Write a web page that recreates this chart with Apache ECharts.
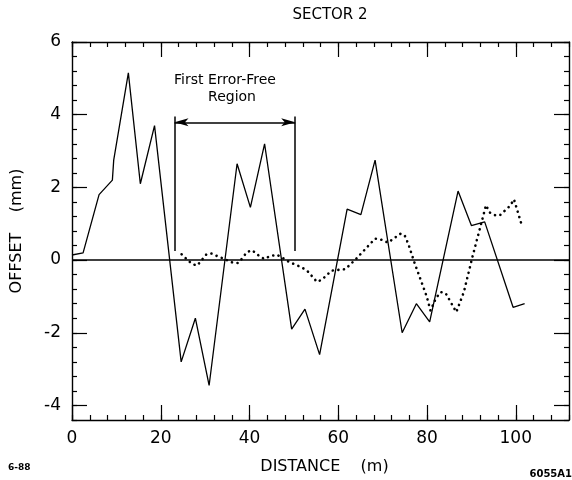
<!DOCTYPE html>
<html>
<head>
<meta charset="utf-8">
<script src="https://cdn.jsdelivr.net/npm/echarts@6/dist/echarts.min.js"></script>
<style>
  html, body { margin: 0; padding: 0; background: #fff; }
  #chart { width: 572px; height: 480px; }
</style>
</head>
<body>
<div id="chart"></div>
<script>
// offset along sector 2 (distance m, offset mm)
var solidTrace = [
  [0, 0.14], [2.5, 0.2], [6.1, 1.8], [9.1, 2.2], [9.4, 2.75], [12.7, 5.15], [15.4, 2.1], [18.6, 3.7],
  [24.6, -2.8], [27.8, -1.6], [30.9, -3.45], [37.2, 2.65], [40.2, 1.45], [43.4, 3.2], [49.5, -1.9],
  [52.5, -1.35], [55.8, -2.6], [62.0, 1.4], [65.1, 1.25], [68.3, 2.75], [74.4, -2.0], [77.6, -1.2],
  [80.6, -1.7], [87.0, 1.9], [90.0, 0.95], [93.0, 1.05], [99.4, -1.3], [102.0, -1.2]
];

var dottedTrace = [
  [24.7, 0.16], [25.8, 0.03], [27.1, -0.11], [28.2, -0.15], [29.1, -0.02], [30.3, 0.16], [31.5, 0.18],
  [32.9, 0.10], [34.4, 0.03], [35.9, -0.06], [37.4, -0.08], [38.4, 0.05], [39.4, 0.22], [40.6, 0.27],
  [41.9, 0.14], [43.3, 0.03], [44.5, 0.10], [46.1, 0.15], [47.6, 0.05], [48.9, -0.05], [50.4, -0.13],
  [51.8, -0.2], [53.2, -0.32], [55.2, -0.6], [56.3, -0.54], [58.5, -0.29], [61.6, -0.25], [64.0, 0.03],
  [68.3, 0.59], [69.7, 0.56], [71.2, 0.48], [72.8, 0.62], [74.1, 0.73], [75.0, 0.67], [75.8, 0.44],
  [77.2, -0.08], [79.9, -0.99], [80.8, -1.39], [82.0, -1.05], [83.1, -0.88], [84.2, -0.91], [86.6, -1.43],
  [88.3, -0.88], [90.2, 0.07], [93.3, 1.51], [94.1, 1.31], [95.4, 1.23], [96.4, 1.23], [98.7, 1.49],
  [99.6, 1.67], [100.1, 1.47], [101.4, 0.94]
];

var xMajorTicks = [0, 20, 40, 60, 80, 100];
var yMajorTicks = [-4, -2, 0, 2, 4, 6];

// "First Error-Free Region" bracket, in data units
var regionStart = 23.1;
var regionEnd = 50.3;
var regionArrowY = 3.79;
var regionTop = 3.95;
var regionBottom = 0.25;

var black = '#000';
var font = 'DejaVu Sans';

var myChart = echarts.init(document.getElementById('chart'));

function xAx(pos, major, labels) {
  return {
    type: 'value', position: pos, min: 0, max: 112, interval: 4,
    axisLine: { show: !major, onZero: false, lineStyle: { color: black, width: 1.4 } },
    axisTick: major
      ? { show: true, inside: true, length: 15, customValues: xMajorTicks, lineStyle: { color: black, width: 1.2 } }
      : { show: true, inside: true, length: 5, lineStyle: { color: black, width: 1.2 } },
    axisLabel: labels ? {
      show: true, color: black, fontSize: 17, fontFamily: font, margin: 10,
      formatter: function (v) { return (v % 20 === 0 && v <= 100) ? String(v) : ''; }
    } : { show: false },
    splitLine: { show: false }
  };
}

function yAx(pos, major, labels) {
  return {
    type: 'value', position: pos, min: -4.4, max: 6, interval: 0.4,
    axisLine: { show: !major, onZero: false, lineStyle: { color: black, width: 1.4 } },
    axisTick: major
      ? { show: true, inside: true, length: 15, customValues: yMajorTicks, lineStyle: { color: black, width: 1.2 } }
      : { show: true, inside: true, length: 5, lineStyle: { color: black, width: 1.2 } },
    axisLabel: labels ? {
      show: true, color: black, fontSize: 17, fontFamily: font, margin: 11,
      formatter: function (v) {
        var r = Math.round(v);
        return (Math.abs(v - r) < 1e-6 && r % 2 === 0) ? String(r) : '';
      }
    } : { show: false },
    splitLine: { show: false }
  };
}

var xMain = xAx('bottom', false, true);
xMain.name = 'DISTANCE    (m)';
xMain.nameLocation = 'middle';
xMain.nameGap = 39;
xMain.nameTextStyle = { color: black, fontSize: 16, fontFamily: font, padding: [0, 0, 0, 8] };

var yMain = yAx('left', false, true);
yMain.name = 'OFFSET    (mm)';
yMain.nameLocation = 'middle';
yMain.nameGap = 47;
yMain.nameTextStyle = { color: black, fontSize: 16, fontFamily: font };

myChart.setOption({
  animation: false,
  backgroundColor: '#fff',
  grid: { left: 72, right: 2, top: 42, bottom: 57, containLabel: false },
  xAxis: [xMain, xAx('bottom', true, false), xAx('top', false, false), xAx('top', true, false)],
  yAxis: [yMain, yAx('left', true, false), yAx('right', false, false), yAx('right', true, false)],
  graphic: [
    { type: 'text', x: 330, y: 15, style: { text: 'SECTOR 2', fill: black, font: '15px "DejaVu Sans"', textAlign: 'center', textVerticalAlign: 'middle' } },
    { type: 'text', x: 225, y: 80, style: { text: 'First Error-Free', fill: black, font: '14px "DejaVu Sans"', textAlign: 'center', textVerticalAlign: 'middle' } },
    { type: 'text', x: 232, y: 97, style: { text: 'Region', fill: black, font: '14px "DejaVu Sans"', textAlign: 'center', textVerticalAlign: 'middle' } },
    { type: 'text', x: 8, y: 468, style: { text: '6-88', fill: black, font: 'bold 9px "DejaVu Sans"', textAlign: 'left', textVerticalAlign: 'middle' } },
    { type: 'text', x: 572, y: 474, style: { text: '6055A1', fill: black, font: 'bold 10px "DejaVu Sans"', textAlign: 'right', textVerticalAlign: 'middle' } }
  ],
  series: [
    {
      name: 'offset',
      type: 'line',
      xAxisIndex: 0, yAxisIndex: 0,
      data: solidTrace,
      symbol: 'none',
      lineStyle: { color: black, width: 1.3 },
      markLine: {
        silent: true,
        symbol: ['none', 'none'],
        label: { show: false },
        lineStyle: { color: black, width: 1.5, type: 'solid' },
        data: [
          [{ coord: [0, 0] }, { coord: [112, 0] }],
          [{ coord: [regionStart, regionBottom] }, { coord: [regionStart, regionTop] }],
          [{ coord: [regionEnd, regionBottom] }, { coord: [regionEnd, regionTop] }],
          [
            { coord: [regionStart, regionArrowY], symbol: 'arrow', symbolSize: [6, 14] },
            { coord: [regionEnd, regionArrowY], symbol: 'arrow', symbolSize: [6, 14] }
          ]
        ]
      }
    },
    {
      name: 'offset after',
      type: 'line',
      xAxisIndex: 0, yAxisIndex: 0,
      data: dottedTrace,
      symbol: 'none',
      lineStyle: { color: black, width: 2.6, type: [0.1, 5.5], cap: 'round' }
    }
  ]
});
</script>
</body>
</html>
